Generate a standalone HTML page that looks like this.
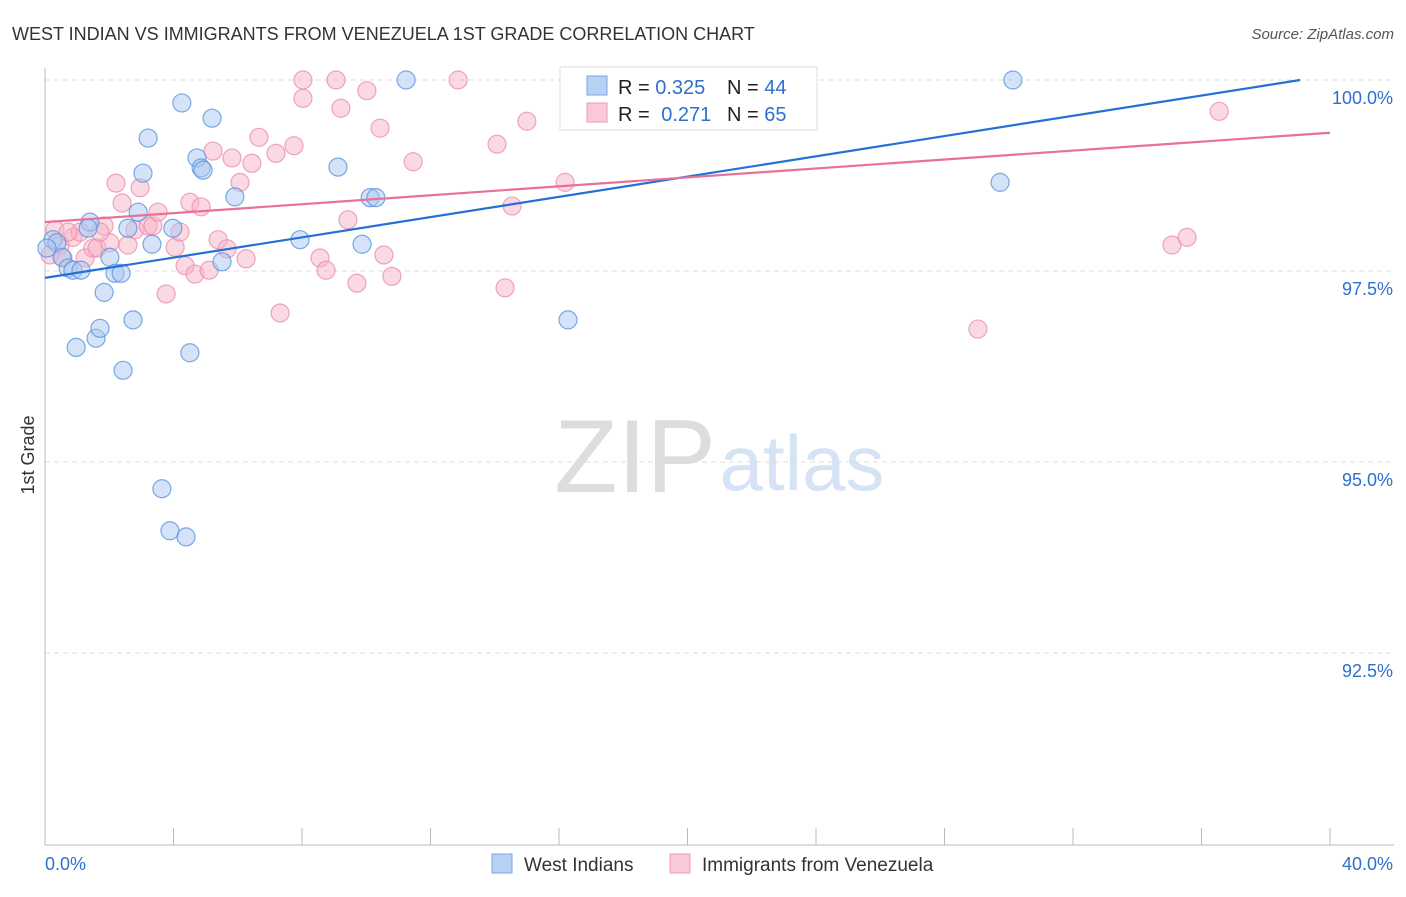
<!DOCTYPE html>
<html><head><meta charset="utf-8"><style>
body{margin:0;background:#fff;font-family:"Liberation Sans",sans-serif;}
#wrap{position:relative;width:1406px;height:892px;}
svg text{font-family:"Liberation Sans",sans-serif;}
</style></head><body>
<div id="wrap">
<svg id="svg" width="1406" height="892">
<text x="12" y="40" font-size="18" fill="#333">WEST INDIAN VS IMMIGRANTS FROM VENEZUELA 1ST GRADE CORRELATION CHART</text>
<text x="1394" y="39" font-size="15" fill="#555" text-anchor="end" font-style="italic">Source: ZipAtlas.com</text>
<text x="34" y="455" font-size="18" fill="#333" text-anchor="middle" transform="rotate(-90 34 455)">1st Grade</text>
<g><text x="635" y="492" font-size="104" fill="#ddd" text-anchor="middle" font-family="Liberation Serif">ZIP</text><text x="802" y="490" font-size="78" fill="#d5e3f5" text-anchor="middle">atlas</text></g>
<g id="grid"></g><g id="axes"></g><g id="pts"></g><g id="trend"></g>
<g>
<rect x="560" y="67" width="257" height="63" fill="#fff" stroke="#ddd"/>
<rect x="587" y="76" width="20" height="19" fill="#b8d1f3" stroke="#7aa6e6"/>
<rect x="587" y="103" width="20" height="19" fill="#f9c9d7" stroke="#ee9ab3"/>
<text x="618" y="94" font-size="20" fill="#222">R = <tspan fill="#2f6fd0">0.325</tspan></text>
<text x="727" y="94" font-size="20" fill="#222">N = <tspan fill="#2f6fd0">44</tspan></text>
<text x="618" y="121" font-size="20" fill="#222">R = <tspan fill="#2f6fd0" dx="6">0.271</tspan></text>
<text x="727" y="121" font-size="20" fill="#222">N = <tspan fill="#2f6fd0">65</tspan></text>
</g>
<g>
<rect x="492" y="854" width="20" height="19" fill="#b8d1f3" stroke="#7aa6e6"/>
<text x="524" y="871" font-size="19" fill="#333">West Indians</text>
<rect x="670" y="854" width="20" height="19" fill="#f9c9d7" stroke="#ee9ab3"/>
<text x="702" y="871" font-size="19" fill="#333">Immigrants from Venezuela</text>
</g>
</svg></div>
<script>
const blueX=[0.25,0.37,0.53,0.72,0.87,1.12,0.97,1.59,1.71,1.84,2.02,2.18,2.37,2.43,1.40,1.34,2.58,2.74,2.90,3.05,3.21,3.33,3.64,3.89,4.39,3.98,4.26,4.51,4.73,4.86,4.92,5.20,5.51,5.91,7.94,9.12,9.87,10.12,10.30,11.24,16.28,29.73,30.13,0.06];
const blueY=[97.91,97.87,97.68,97.54,97.51,97.51,96.50,96.62,96.75,97.22,97.68,97.47,97.47,96.20,98.14,98.06,98.06,96.86,98.27,98.78,99.24,97.85,94.65,94.10,94.02,98.06,99.70,96.43,98.98,98.85,98.82,99.50,97.62,98.47,97.91,98.86,97.85,98.46,98.46,100.0,96.86,98.66,100.0,97.80];
const pinkX=[0.16,0.31,0.47,0.56,0.87,1.09,1.25,1.49,1.62,1.84,2.02,2.21,2.40,2.58,2.80,2.96,3.21,3.36,3.52,3.77,4.05,4.20,4.36,4.51,4.67,4.86,5.11,5.23,5.39,5.67,5.82,6.07,6.26,6.44,6.66,7.19,7.32,7.75,8.03,8.03,8.56,8.75,9.06,9.21,9.43,9.71,10.02,10.43,10.55,10.80,11.46,12.86,14.07,14.32,14.54,15.00,16.19,21.32,21.88,29.04,35.08,35.55,36.55,0.72,1.71];
const pinkY=[97.71,98.04,97.84,97.67,97.94,98.01,97.67,97.80,97.80,98.09,97.87,98.65,98.39,97.84,98.04,98.59,98.09,98.09,98.27,97.20,97.81,98.01,97.57,98.40,97.46,98.34,97.51,99.07,97.91,97.79,98.98,98.66,97.66,98.91,99.25,99.04,96.95,99.14,100.0,99.76,97.67,97.51,100.0,99.63,98.17,97.34,99.86,99.37,97.71,97.43,98.93,100.0,99.16,97.28,98.35,99.46,98.66,100.0,100.0,96.74,97.84,97.94,99.59,98.01,98.01];
const blueTrend=[[0,97.41],[39.07,100.0]];
const pinkTrend=[[0,98.14],[40,99.31]];
const yTicks=[100,97.5,95,92.5];
const yTickLabels=["100.0%","97.5%","95.0%","92.5%"];
const xTicks=[0,4,8,12,16,20,24,28,32,36,40];
const NS="http://www.w3.org/2000/svg";
const sx=v=>45+v/40*1285;
const sy=v=>80+(100-v)/2.5*191;
function mk(tag,attrs,parent){const e=document.createElementNS(NS,tag);for(const k in attrs)e.setAttribute(k,attrs[k]);parent.appendChild(e);return e;}
const grid=document.getElementById('grid'),axes=document.getElementById('axes'),pts=document.getElementById('pts'),trend=document.getElementById('trend');
yTicks.forEach((t,i)=>{
 const l=mk('line',{x1:45,x2:1394,y1:sy(t),y2:sy(t),stroke:'#ddd','stroke-dasharray':'5,4'},grid);
 
 
 const tx=mk('text',{x:1393,y:sy(t)+24,'font-size':18,fill:'#2f6fd0','text-anchor':'end'},axes);
 tx.textContent=yTickLabels[i];
 
 
});
const ya=mk('line',{x1:45,x2:45,y1:68,y2:845,stroke:'#bbb'},axes);


const xa=mk('line',{x1:45,x2:1394,y1:845,y2:845,stroke:'#bbb'},axes);


xTicks.forEach(t=>{
 const l=mk('line',{x1:sx(t),x2:sx(t),y1:828,y2:845,stroke:'#bbb'},axes);
 
 
});
const xl0=mk('text',{x:45,y:870,'font-size':18,fill:'#2f6fd0'},axes);xl0.textContent='0.0%';


const xl1=mk('text',{x:1393,y:870,'font-size':18,fill:'#2f6fd0','text-anchor':'end'},axes);xl1.textContent='40.0%';


function drawPts(X,Y,fill,stroke,name){
 X.forEach((x,i)=>{
  const c=mk('circle',{cx:sx(x),cy:sy(Y[i]),r:9,fill:fill,'fill-opacity':0.5,stroke:stroke,'stroke-opacity':0.8,'stroke-width':1.2},pts);
  
  
 });
}
drawPts(pinkX,pinkY,'#f6b3c8','#ec8fac','point-venezuela');
drawPts(blueX,blueY,'#a9c8f0','#5b93e0','point-west-indian');
const bt=mk('line',{x1:sx(blueTrend[0][0]),y1:sy(blueTrend[0][1]),x2:sx(blueTrend[1][0]),y2:sy(blueTrend[1][1]),stroke:'#2470d6','stroke-width':2.2},trend);


const pt=mk('line',{x1:sx(pinkTrend[0][0]),y1:sy(pinkTrend[0][1]),x2:sx(pinkTrend[1][0]),y2:sy(pinkTrend[1][1]),stroke:'#e8709a','stroke-width':2.2},trend);


</script>
</body></html>
